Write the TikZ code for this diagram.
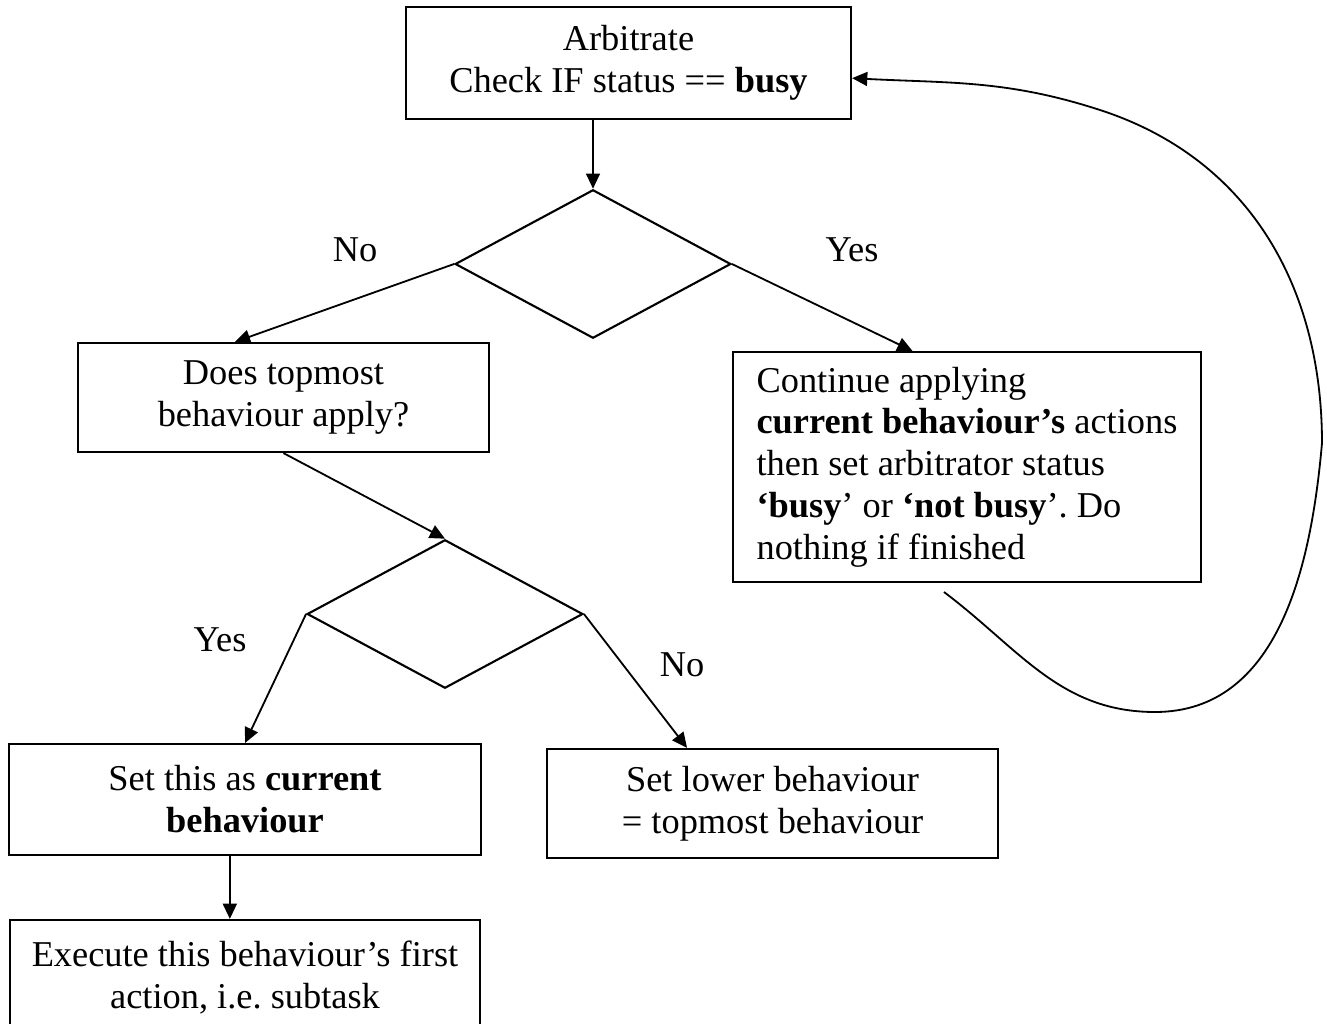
\documentclass[tikz,border=0pt]{standalone}
\usepackage{fontspec}
\setmainfont{Liberation Serif}
\usetikzlibrary{shapes.geometric, arrows.meta, positioning}
\frenchspacing

\begin{document}
\begin{tikzpicture}[
	x=0.33pt, y=-0.33pt,
	font=\fontsize{12pt}{13.8pt}\selectfont,
	box/.style={rectangle, draw, line width=0.7pt, align=center, inner sep=0pt},
	decision/.style={diamond, draw, line width=0.7pt, inner sep=0pt, minimum width=91pt, minimum height=49pt},
	flow/.style={line width=0.6pt, -{Triangle[length=5pt, width=4.6pt]}},
	lbl/.style={inner sep=0pt}
	]
	\useasboundingbox (0,0) rectangle (1327,1024);

	% Boxes
	\node[box, minimum width=146.9pt, minimum height=37pt] (arb) at (628.5,63) {Arbitrate\\Check IF status == \textbf{busy}};
	\node[box, minimum width=135.6pt, minimum height=36pt] (top) at (283.5,397.5) {Does topmost\\behaviour apply?};
	\node[box, align=left, minimum width=154.4pt, minimum height=75.9pt] (cont) at (967,467) {Continue applying\\\textbf{current behaviour’s} actions\\then set arbitrator status\\\textbf{‘busy}’ or \textbf{‘not busy}’. Do\\nothing if finished};
	\node[box, minimum width=155.8pt, minimum height=36.6pt] (cur) at (245,799.5) {Set this as \textbf{current}\\\textbf{behaviour}};
	\node[box, minimum width=148.8pt, minimum height=36pt] (lower) at (772.5,803.5) {Set lower behaviour\\= topmost behaviour};
	\node[box, minimum width=155.1pt, minimum height=38pt] (exec) at (245,977.5) {Execute this behaviour’s first\\action, i.e. subtask};

	% Decisions
	\node[decision] (busy) at (593,264) {};
	\node[decision] (apply) at (445,614) {};

	% Labels
	\node[lbl] (no1) at (355,250) {No};
	\node[lbl] (yes1) at (852,250) {Yes};
	\node[lbl] (yes2) at (220,640) {Yes};
	\node[lbl] (no2) at (682,665) {No};

	% Connections
	\draw[flow] (arb.south -| busy.north) -- (busy.north);
	\draw[flow] (busy.west) -- ([xshift=-16pt]top.north);
	\draw[flow] (busy.east) -- ([xshift=-18pt]cont.north);
	\draw[flow] (top.south) -- (apply.north);
	\draw[flow] (apply.west) -- (cur.north);
	\draw[flow] (apply.east) -- ([xshift=-28.2pt]lower.north);
	\draw[flow] ([xshift=-5pt]cur.south) -- ([xshift=-5pt]exec.north);

	% Loop back
	\coordinate (loopstart) at (944,592);
	\draw[flow] (loopstart) to[out=-37, in=180] (1155,712)
		to[out=0, in=-95] (1322,443)
		to[out=90, in=-18] (1100,110)
		to[out=162, in=-3] ([yshift=-5pt]arb.east);
\end{tikzpicture}
\end{document}
